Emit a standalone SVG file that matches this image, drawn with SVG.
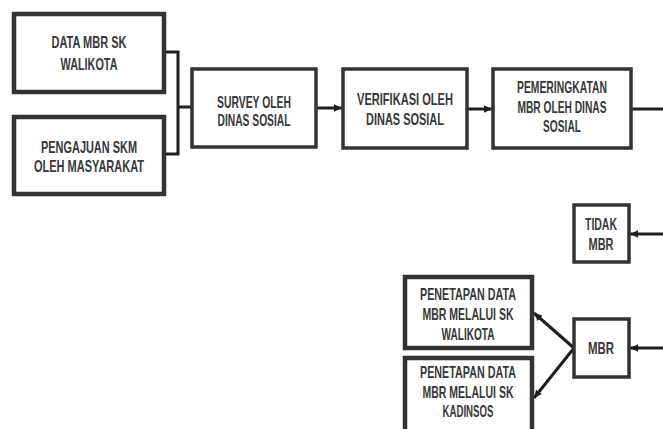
<svg xmlns="http://www.w3.org/2000/svg" width="663" height="429" viewBox="0 0 663 429">
<defs>
<style>
.box{fill:#fff;stroke:#333;stroke-width:3.5}
.thick{stroke-width:4.5}
.t{font-family:"Liberation Sans",Arial,sans-serif;font-weight:bold;font-size:16.5px;fill:#383838;text-anchor:middle}
.c{fill:none;stroke:#1e1e1e;stroke-width:3}
</style>
<marker id="ah" markerUnits="userSpaceOnUse" markerWidth="9" markerHeight="9" refX="8" refY="4.5" orient="auto">
<path d="M0,0.8 L8,4.5 L0,8.2 Z" fill="#1e1e1e"/>
</marker>
</defs>
<rect width="663" height="429" fill="#fff"/>
<g id="connectors">
<path class="c" d="M164,52 H178 V154 H164"/>
<path class="c" d="M178,107 H191"/>
<path class="c" d="M316,108 H342" marker-end="url(#ah)"/>
<path class="c" d="M467,109 H492" marker-end="url(#ah)"/>
<path class="c" d="M631,109 H663"/>
<path class="c" d="M663,234 H630" marker-end="url(#ah)"/>
<path class="c" d="M663,348 H630" marker-end="url(#ah)"/>
<path class="c" d="M574,348 L534,313" marker-end="url(#ah)"/>
<path class="c" d="M574,348 L534,398" marker-end="url(#ah)"/>
</g>
<g id="data-mbr-sk">
<rect class="box thick" x="14" y="14" width="150" height="78"/>
<text class="t" x="89" y="48" textLength="75" lengthAdjust="spacingAndGlyphs">DATA MBR SK</text>
<text class="t" x="89" y="70" textLength="57" lengthAdjust="spacingAndGlyphs">WALIKOTA</text>
</g>
<g id="pengajuan-skm">
<rect class="box thick" x="14" y="117" width="150" height="77"/>
<text class="t" x="89" y="153" textLength="96" lengthAdjust="spacingAndGlyphs">PENGAJUAN SKM</text>
<text class="t" x="89" y="172" textLength="110" lengthAdjust="spacingAndGlyphs">OLEH MASYARAKAT</text>
</g>
<g id="survey">
<rect class="box" x="192" y="69" width="124" height="78"/>
<text class="t" x="254" y="108" textLength="74" lengthAdjust="spacingAndGlyphs">SURVEY OLEH</text>
<text class="t" x="254" y="126" textLength="73" lengthAdjust="spacingAndGlyphs">DINAS SOSIAL</text>
</g>
<g id="verifikasi">
<rect class="box" x="343" y="69" width="124" height="79"/>
<text class="t" x="405" y="105" textLength="96" lengthAdjust="spacingAndGlyphs">VERIFIKASI OLEH</text>
<text class="t" x="405" y="125" textLength="78" lengthAdjust="spacingAndGlyphs">DINAS SOSIAL</text>
</g>
<g id="pemeringkatan">
<rect class="box" x="493" y="69" width="138" height="79"/>
<text class="t" x="562" y="93" textLength="90" lengthAdjust="spacingAndGlyphs">PEMERINGKATAN</text>
<text class="t" x="562" y="113" textLength="89" lengthAdjust="spacingAndGlyphs">MBR OLEH DINAS</text>
<text class="t" x="562" y="132" textLength="38" lengthAdjust="spacingAndGlyphs">SOSIAL</text>
</g>
<g id="tidak-mbr">
<rect class="box" x="574" y="205" width="55" height="57"/>
<text class="t" x="601" y="230" textLength="32" lengthAdjust="spacingAndGlyphs">TIDAK</text>
<text class="t" x="601" y="250" textLength="25" lengthAdjust="spacingAndGlyphs">MBR</text>
</g>
<g id="mbr">
<rect class="box" x="574" y="319" width="55" height="58"/>
<text class="t" x="601" y="354" textLength="26" lengthAdjust="spacingAndGlyphs">MBR</text>
</g>
<g id="penetapan-walikota">
<rect class="box thick" x="405" y="277" width="127" height="71"/>
<text class="t" x="468" y="300" textLength="96" lengthAdjust="spacingAndGlyphs">PENETAPAN DATA</text>
<text class="t" x="468" y="320" textLength="91" lengthAdjust="spacingAndGlyphs">MBR MELALUI SK</text>
<text class="t" x="468" y="340" textLength="53" lengthAdjust="spacingAndGlyphs">WALIKOTA</text>
</g>
<g id="penetapan-kadinsos">
<rect class="box thick" x="405" y="358" width="127" height="76"/>
<text class="t" x="468" y="378" textLength="96" lengthAdjust="spacingAndGlyphs">PENETAPAN DATA</text>
<text class="t" x="468" y="398" textLength="91" lengthAdjust="spacingAndGlyphs">MBR MELALUI SK</text>
<text class="t" x="468" y="417" textLength="51" lengthAdjust="spacingAndGlyphs">KADINSOS</text>
</g>
</svg>
